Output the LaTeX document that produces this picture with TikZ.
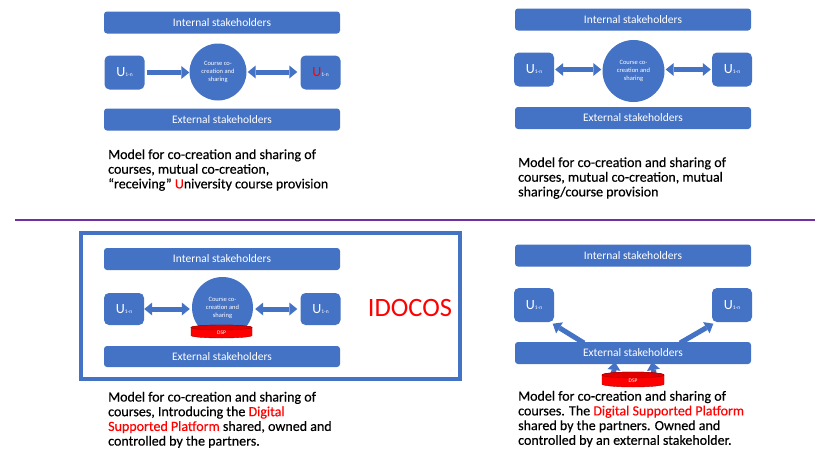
\documentclass[tikz,border=0pt]{standalone}
\usepackage{fontspec}
\setmainfont{Carlito}
\newfontfamily\capfont{Carlito}[FakeBold=0.4]
\usetikzlibrary{arrows.meta,calc}
\definecolor{ublue}{HTML}{4472C4}
\definecolor{purp}{HTML}{7030A0}
\definecolor{dspred}{HTML}{FF0000}
\newcommand{\ulab}[1][white]{{\fontsize{14}{14}\selectfont\textcolor{#1}{U}}{\fontsize{5.5}{6}\selectfont 1-n}}
\begin{document}
\begin{tikzpicture}[x=1pt,y=-1pt,
  bar/.style={fill=ublue, rounded corners=3pt, text=white, font=\fontsize{11.5}{12}\selectfont, inner sep=0pt, minimum width=236pt, minimum height=22pt},
  ubox/.style={fill=ublue, rounded corners=5pt, text=white, inner sep=0pt, minimum width=40pt, minimum height=34pt},
  hub/.style={circle, fill=ublue, text=white, align=center, font=\fontsize{6.5}{8}\selectfont, inner sep=0pt},
  barrow/.style={draw=ublue, line width=5pt, -{Triangle[length=8pt,width=13pt,line width=0pt]}},
  dbarrow/.style={draw=ublue, line width=5pt, {Triangle[length=8pt,width=13pt,line width=0pt]}-{Triangle[length=8pt,width=13pt,line width=0pt]}},
  caption/.style={anchor=base west, align=left, inner sep=0pt, font=\capfont\fontsize{14}{14.7}\selectfont},
  dspbody/.style={fill=dspred, draw=red!65!black, line width=0.4pt},
  dsptop/.style={fill=red!88!black, draw=red!65!black, line width=0.4pt},
  dsplab/.style={text=white, font=\fontsize{5.5}{6}\selectfont, inner sep=0pt},
]
\useasboundingbox (0,0) rectangle (815,455);

% ---------- Panel A (top left)
\node[bar] (intA) at (222,22.5) {Internal stakeholders};
\node[ubox] (uA1) at (124.5,72.5) {\ulab};
\node[hub, minimum size=57pt] (hA) at (218,72) {Course co-\\creation and\\sharing};
\node[ubox] (uA2) at (320.5,72.5) {\ulab[red]};
\node[bar] (extA) at (222,119.5) {External stakeholders};
\draw[barrow, shorten <=2pt] (uA1.east) -- (uA1.east -| hA.west);
\draw[dbarrow, shorten <=1pt, shorten >=3pt] (hA.east) -- (hA.east -| uA2.west);
\node[caption] (capA) at (108,188.4) {Model for co-creation and sharing of\\courses, mutual co-creation,\\“receiving” \textcolor{dspred}{U}niversity course provision};

% ---------- Panel B (top right)
\node[bar] (intB) at (633,19.5) {Internal stakeholders};
\node[ubox] (uB1) at (534,69.5) {\ulab};
\node[hub, minimum size=62pt] (hB) at (633.5,71) {Course co-\\creation and\\sharing};
\node[ubox] (uB2) at (732,69.5) {\ulab};
\node[bar] (extB) at (633,118) {External stakeholders};
\draw[dbarrow, shorten <=1pt, shorten >=1pt] (uB1.east) -- (uB1.east -| hB.west);
\draw[dbarrow, shorten <=1pt, shorten >=1pt] (uB2.west -| hB.east) -- (uB2.west);
\node[caption] (capB) at (518,196.4) {Model for co-creation and sharing of\\courses, mutual co-creation, mutual\\sharing/course provision};

% ---------- divider
\draw[purp, line width=2pt] (15,220) -- (815,220);

% ---------- Panel C (bottom left, IDOCOS)
\draw[ublue, line width=4pt] (81,233) rectangle (460,379);
\node[bar] (intC) at (222,259) {Internal stakeholders};
\node[ubox, minimum height=32pt] (uC1) at (124,309) {\ulab};
\node[hub, minimum size=61pt] (hC) at (222.5,307.5) {Course co-\\creation and\\sharing};
\node[ubox, minimum height=32pt] (uC2) at (320.5,309) {\ulab};
\node[bar, minimum height=21pt] (extC) at (222,356.5) {External stakeholders};
\draw[dbarrow, shorten <=0pt, shorten >=2pt] (uC1.east) -- (uC1.east -| hC.west);
\draw[dbarrow, shorten <=2pt, shorten >=3pt] (uC2.west -| hC.east) -- (uC2.west);
\path[dspbody] (191,327.5) -- (191,335.5) arc[start angle=180, end angle=0, x radius=30.5, y radius=2.5] -- (252,327.5) arc[start angle=0, end angle=-180, x radius=30.5, y radius=2.5] -- cycle;
\path[dsptop] (221.5,327.5) ellipse[x radius=30.5, y radius=2.5];
\node[dsplab] (dspC) at (221.5,332.5) {DSP};
\node[text=dspred, font=\fontsize{26.5}{28}\selectfont, inner sep=0pt] (idocos) at (410,308) {IDOCOS};
\node[caption] (capC) at (108,445.6) {Model for co-creation and sharing of\\courses, Introducing the \textcolor{dspred}{Digital}\\\textcolor{dspred}{Supported Platform} shared, owned and\\controlled by the partners.};

% ---------- Panel D (bottom right)
\node[bar] (intD) at (633,255.5) {Internal stakeholders};
\node[ubox] (uD1) at (534,305) {\ulab};
\node[ubox] (uD2) at (732,305) {\ulab};
\node[bar] (extD) at (633,353) {External stakeholders};
\coordinate (aD1) at (584,343);
\coordinate (aD2) at (680,343);
\coordinate (sD1) at (612,384);
\coordinate (sD2) at (656,384);
\draw[barrow] (aD1) -- ($(uD1.south east)+(-1.5,1.5)$);
\draw[barrow] (aD2) -- ($(uD2.south west)+(1.5,1.5)$);
\draw[barrow] (sD1) -- (615,362);
\draw[barrow] (sD2) -- (652,362);
\path[dspbody] (602,375) -- (602,384) arc[start angle=180, end angle=0, x radius=31, y radius=3] -- (664,375) arc[start angle=0, end angle=-180, x radius=31, y radius=3] -- cycle;
\path[dsptop] (633,375) ellipse[x radius=31, y radius=3];
\node[dsplab] (dspD) at (633,381) {DSP};
\node[caption] (capD) at (518,444.8) {Model for co-creation and sharing of\\courses. The \textcolor{dspred}{Digital Supported Platform}\\shared by the partners. Owned and\\controlled by an external stakeholder.};
\end{tikzpicture}
\end{document}
